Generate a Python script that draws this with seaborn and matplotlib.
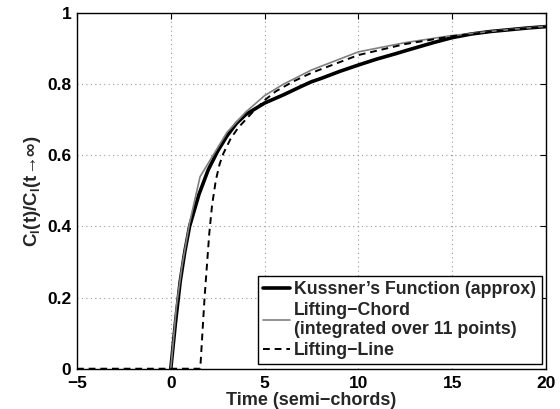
import matplotlib
matplotlib.use("Agg")
import matplotlib.pyplot as plt
import pandas as pd
import seaborn as sns

sns.set_theme(style="white")
plt.rcParams["font.family"] = ["Liberation Sans", "DejaVu Sans"]
plt.rcParams["font.weight"] = "bold"
plt.rcParams["mathtext.fontset"] = "custom"
plt.rcParams["mathtext.rm"] = "Liberation Sans:bold"
plt.rcParams["mathtext.it"] = "Liberation Sans:bold"
plt.rcParams["mathtext.bf"] = "Liberation Sans:bold"

# values
kussner_t = [0, 0.25, 0.5, 0.75, 1.0, 1.5, 2.0, 2.5, 3.0, 3.5, 4.0, 5.0, 6.0, 7.0,
             7.5, 8.0, 9.0, 10.0, 11.0, 12.0, 12.5, 14.0, 15.0, 16.0, 17.0, 18.0, 19.0, 20.0]
kussner_v = [0, 0.13, 0.245, 0.33, 0.40, 0.49, 0.56, 0.612, 0.655, 0.69, 0.715, 0.747, 0.77, 0.795,
             0.807, 0.816, 0.836, 0.854, 0.871, 0.886, 0.894, 0.917, 0.931, 0.941, 0.948, 0.953, 0.958, 0.962]

chord_t = [0, 0.3, 0.6, 1.0, 1.56, 3.0, 4.0, 5.0, 6.0, 7.5, 10.0, 12.5, 15.0, 17.5, 20.0]
chord_v = [0, 0.175, 0.29, 0.41, 0.54, 0.665, 0.722, 0.768, 0.80, 0.84, 0.891, 0.917, 0.937, 0.951, 0.963]

line_t = [-5, 1.57, 1.8, 2.05, 2.2, 2.4, 2.6, 2.8, 3.2, 3.6, 4.3, 5.0, 5.6, 6.5, 7.5,
          10.0, 12.5, 15.0, 17.5, 20.0]
line_v = [0, 0, 0.20, 0.38, 0.46, 0.53, 0.575, 0.605, 0.648, 0.678, 0.718, 0.755, 0.78, 0.807, 0.832,
          0.882, 0.913, 0.935, 0.95, 0.962]

x_ticks = [-5, 0, 5, 10, 15, 20]
x_labels = ["\u22125", "0", "5", "10", "15", "20"]
y_ticks = [0, 0.2, 0.4, 0.6, 0.8, 1.0]
y_labels = ["0", "0.2", "0.4", "0.6", "0.8", "1"]

fig = plt.figure(figsize=(5.6, 4.09), dpi=100)
ax = fig.add_axes([0.1375, 0.0985, 0.8375, 0.8695])

sns.lineplot(x=kussner_t, y=kussner_v, ax=ax, color="black", linewidth=2.6,
             sort=False, estimator=None, label="Kussner\u2019s Function (approx)")
sns.lineplot(x=chord_t, y=chord_v, ax=ax, color="#808080", linewidth=1.2,
             sort=False, estimator=None,
             label="Lifting\u2212Chord\n(integrated over 11 points)")
sns.lineplot(x=line_t, y=line_v, ax=ax, color="black", linewidth=1.4, linestyle=(0, (3.5, 2.5)),
             sort=False, estimator=None, label="Lifting\u2212Line")

ax.set_xlim(-5, 20)
ax.set_ylim(0, 1)
ax.set_xticks(x_ticks)
ax.set_xticklabels(x_labels)
ax.set_yticks(y_ticks)
ax.set_yticklabels(y_labels)
ax.grid(True, linestyle=(0, (1, 3)), color="#999999", linewidth=0.8)
ax.tick_params(direction="in", length=4, width=0.8, top=True, right=True,
               labelsize=12.5, colors="black")
ax.tick_params(axis="x", pad=5)
ax.tick_params(axis="y", pad=4)
for s in ax.spines.values():
    s.set_color("black")
    s.set_linewidth(1.0)

ax.set_xlabel("Time (semi\u2212chords)", fontsize=13, fontweight="bold", labelpad=1)
ax.set_ylabel("C$_{l}$(t)/C$_{l}$(t\u2192\u221e)", fontsize=13.5, fontweight="bold", labelpad=3)

leg = ax.legend(loc="lower right", fontsize=12.8, frameon=True, fancybox=False,
                edgecolor="black", framealpha=1, borderaxespad=0.25, handlelength=1.5,
                handletextpad=0.25, labelspacing=0.2, borderpad=0.3)
leg.get_frame().set_linewidth(1.0)

fig.savefig("out.png", dpi=100)
